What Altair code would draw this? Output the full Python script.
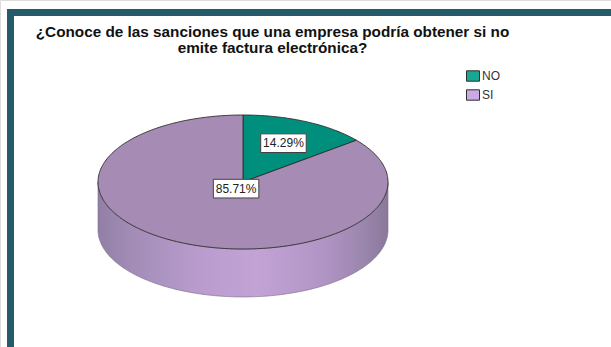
import math
import altair as alt
import pandas as pd

# ---- data ----
categories = ["NO", "SI"]
percentages = [14.29, 85.71]
label_texts = ["14.29%", "85.71%"]
slice_colors = ["#008f7d", "#a68bb5"]
legend_colors = ["#16a893", "#c9aae2"]
label_radius = [0.643, 0.11]   # radial fraction of label along slice mid-angle

title_lines = ["¿Conoce de las sanciones que una empresa podría obtener si no",
               "emite factura electrónica?"]

FONT = "Liberation Sans"
W, H = 611, 347
depth = 0.716          # side height, in units of the vertical radius

# ---- geometry built from the values ----
rows = []
start = 0.0
for cat, pct, col in zip(categories, percentages, slice_colors):
    a0 = start / 100 * 360
    a1 = (start + pct) / 100 * 360
    pts = [(0.0, 0.0)]
    n = max(2, int(math.ceil(a1 - a0)))
    for k in range(n + 1):
        a = math.radians(a0 + (a1 - a0) * k / n)
        pts.append((math.sin(a), math.cos(a)))
    pts.append((0.0, 0.0))
    for i, (x, y) in enumerate(pts):
        rows.append({"cat": cat, "color": col, "i": i, "x": x, "y": y})
    start += pct
top_df = pd.DataFrame(rows)

side_rows = []
for k in range(181):
    a = math.radians(90 + k)
    x, y = math.sin(a), math.cos(a)
    side_rows.append({"x": x, "y": y, "y2": y - depth})
side_df = pd.DataFrame(side_rows)

lab_rows = []
start = 0.0
for cat, pct, txt, r in zip(categories, percentages, label_texts, label_radius):
    mid = math.radians((start + pct / 2) / 100 * 360)
    lab_rows.append({"cat": cat, "text": txt, "x": r * math.sin(mid), "y": r * math.cos(mid)})
    start += pct
lab_df = pd.DataFrame(lab_rows)

leg_df = pd.DataFrame({"cat": categories, "x": [0.0, 0.0], "y": [0.0, 0.0]})

# scales: unit ellipse -> pixels (center 243,182; radii 145 x 67)
xs = alt.Scale(domain=[-243 / 145, (W - 243) / 145], nice=False, zero=False)
ys = alt.Scale(domain=[-(H - 182) / 67, 182 / 67], nice=False, zero=False)
X = lambda: alt.X("x:Q", scale=xs, axis=None)
Y = lambda: alt.Y("y:Q", scale=ys, axis=None)

side = alt.Chart(side_df).mark_area(
    color=alt.Gradient(
        gradient="linear", x1=0, x2=1, y1=0, y2=0,
        stops=[
            alt.GradientStop(offset=0.0, color="#927fa5"),
            alt.GradientStop(offset=0.12, color="#a28db7"),
            alt.GradientStop(offset=0.35, color="#b99ccd"),
            alt.GradientStop(offset=0.55, color="#c3a3d6"),
            alt.GradientStop(offset=0.78, color="#b194c4"),
            alt.GradientStop(offset=0.92, color="#9a86ad"),
            alt.GradientStop(offset=1.0, color="#8a7899"),
        ]),
    stroke="#7d6c8c", strokeWidth=0.6
).encode(x=X(), y=Y(), y2="y2:Q")

top = alt.Chart(top_df).mark_line(strokeWidth=0.9, strokeJoin="round").encode(
    x=X(), y=Y(),
    fill=alt.Fill("color:N", scale=None),
    stroke=alt.value("#2e2e2e"),
    detail="cat:N",
    order="i:Q",
)

boxes = alt.Chart(lab_df).mark_point(
    shape="M-1,-0.41L1,-0.41L1,0.41L-1,0.41Z", size=2070,
    filled=True, fill="white", stroke="#404040", strokeWidth=1, opacity=1
).encode(x=X(), y=Y())

texts = alt.Chart(lab_df).mark_text(
    font=FONT, fontSize=12, color="#222222", baseline="middle", align="center"
).encode(x=X(), y=Y(), text="text:N")

legend_layer = alt.Chart(leg_df).mark_point(filled=True, size=0, strokeWidth=0).encode(
    x=X(), y=Y(),
    fill=alt.Fill("cat:N", scale=alt.Scale(domain=categories, range=legend_colors),
                  legend=alt.Legend(
                      title=None, orient="none", legendX=466, legendY=69,
                      symbolType="M-1,-0.8L1,-0.8L1,0.8L-1,0.8Z", symbolSize=169,
                      symbolStrokeColor="#404040", symbolStrokeWidth=1, symbolOpacity=1,
                      labelFont=FONT, labelFontSize=12, labelColor="#333333",
                      labelOffset=2, rowPadding=3, padding=0)),
)

border_top = alt.Chart(leg_df).mark_rule(color="#245b6a", strokeWidth=7).encode(
    x=alt.value(7), x2=alt.value(W), y=alt.value(12.5))
border_left = alt.Chart(leg_df).mark_rule(color="#245b6a", strokeWidth=7).encode(
    x=alt.value(10.5), y=alt.value(9), y2=alt.value(H))

chart = alt.layer(side, top, boxes, texts, legend_layer, border_top, border_left).properties(
    width=W, height=H,
    autosize=alt.AutoSizeParams(type="none"),
    padding=0,
    title=alt.TitleParams(
        text=title_lines, anchor="middle", frame="group", orient="top",
        font=FONT, fontSize=15.3, fontWeight="bold", color="#111111",
        lineHeight=15.5, baseline="top", offset=0, dy=56, dx=-33),
).configure_view(stroke=None).configure(background="white")

chart.save("out.html", embed_options={"renderer": "svg", "actions": False})
